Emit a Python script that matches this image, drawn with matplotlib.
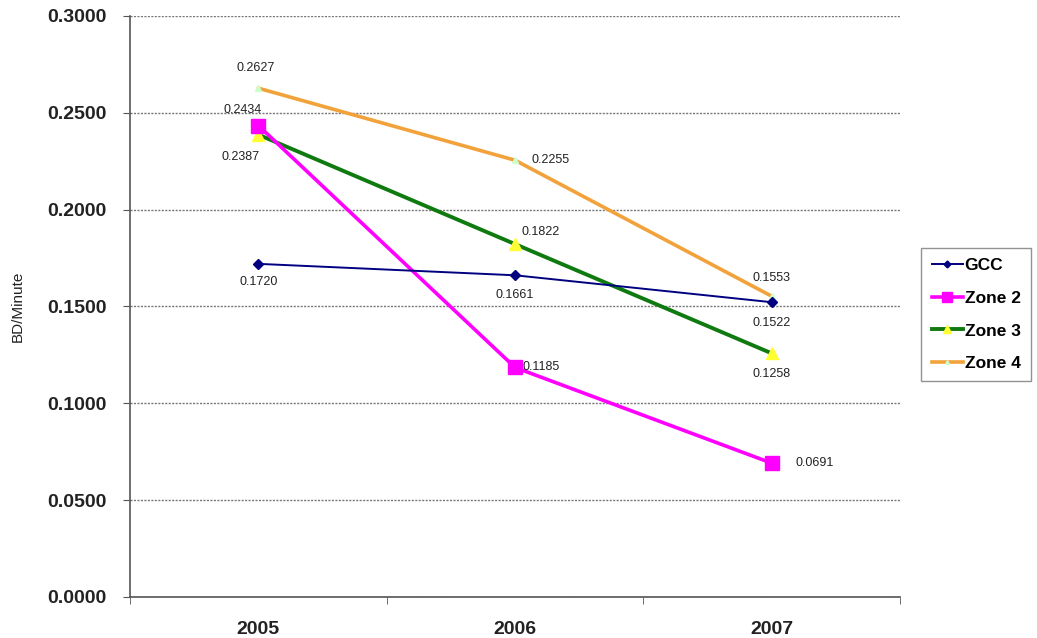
import matplotlib.pyplot as plt
from matplotlib.ticker import FixedLocator, FormatStrFormatter

plt.rcParams['font.family'] = ['Liberation Sans', 'DejaVu Sans']

# data
years = ["2005", "2006", "2007"]
gcc = [0.1720, 0.1661, 0.1522]
zone2 = [0.2434, 0.1185, 0.0691]
zone3 = [0.2387, 0.1822, 0.1258]
zone4 = [0.2627, 0.2255, 0.1553]

x = list(range(len(years)))

fig = plt.figure(figsize=(10.37, 6.38), dpi=100)
ax = fig.add_axes([0.1254, 0.0643, 0.7425, 0.9107])

ax.plot(x, zone4, color='#F2A23A', lw=2.6, marker='^', ms=4,
        mfc='#CCFFCC', mec='#CCFFCC', label='Zone 4', zorder=3)
ax.plot(x, zone3, color='#0F7A0F', lw=2.8, marker='^', ms=9,
        mfc='#FFFF33', mec='#FFFF33', label='Zone 3', zorder=4)
ax.plot(x, zone2, color='#FF00FF', lw=2.6, marker='s', ms=10,
        mfc='#FF00FF', mec='#FF00FF', label='Zone 2', zorder=5)
ax.plot(x, gcc, color='#000080', lw=1.4, marker='D', ms=5,
        mfc='#000080', mec='#000080', label='GCC', zorder=6)

# data labels (offsets in pixels)
offsets = {
    'gcc': [(0, -18), (0, -20), (0, -21)],
    'zone2': [(-16, 16), (26, 0), (43, 0)],
    'zone3': [(-18, -22), (26, 12), (0, -21)],
    'zone4': [(-3, 20), (36, 0), (0, 18)],
}
series = {'gcc': gcc, 'zone2': zone2, 'zone3': zone3, 'zone4': zone4}
for key, vals in series.items():
    for i, v in enumerate(vals):
        ax.annotate(f"{v:.4f}", (x[i], v), xytext=offsets[key][i],
                    textcoords='offset pixels', ha='center', va='center',
                    fontsize=9, color='#222222', zorder=10)

ax.set_xlim(-0.5, 2.5)
ax.set_ylim(0, 0.3)
ax.set_yticks([0, 0.05, 0.1, 0.15, 0.2, 0.25, 0.3])
ax.yaxis.set_major_formatter(FormatStrFormatter('%.4f'))
ax.set_xticks(x)
ax.set_xticklabels(years)
ax.xaxis.set_minor_locator(FixedLocator([-0.5, 0.5, 1.5, 2.5]))
ax.tick_params(axis='x', which='major', length=0, pad=17)
ax.tick_params(axis='x', which='minor', length=5, direction='out', color='#555555')
ax.tick_params(axis='y', length=5, color='#555555', pad=12)
for lab in ax.get_xticklabels() + ax.get_yticklabels():
    lab.set_fontweight('bold')
    lab.set_fontsize(14)
    lab.set_color('#222222')

ax.grid(axis='y', linestyle=(0, (1.5, 1)), color='#777777', lw=1)
ax.set_axisbelow(True)
for s in ['top', 'right']:
    ax.spines[s].set_visible(False)
for s in ['left', 'bottom']:
    ax.spines[s].set_color('#555555')
    ax.spines[s].set_linewidth(1.2)

ax.set_ylabel("BD/Minute", fontsize=11, color='#222222', labelpad=16)

handles, labels = ax.get_legend_handles_labels()
order = [3, 2, 1, 0]
leg = fig.legend([handles[i] for i in order], [labels[i] for i in order],
                 loc='upper left', bbox_to_anchor=(0.880, 0.625),
                 frameon=True, fancybox=False, edgecolor='#777777',
                 prop={'weight': 'bold', 'size': 12.5}, handlelength=1.8,
                 handletextpad=0.1, labelspacing=1.0, borderpad=0.6,
                 markerscale=0.7)

fig.savefig("out.png", dpi=100)
